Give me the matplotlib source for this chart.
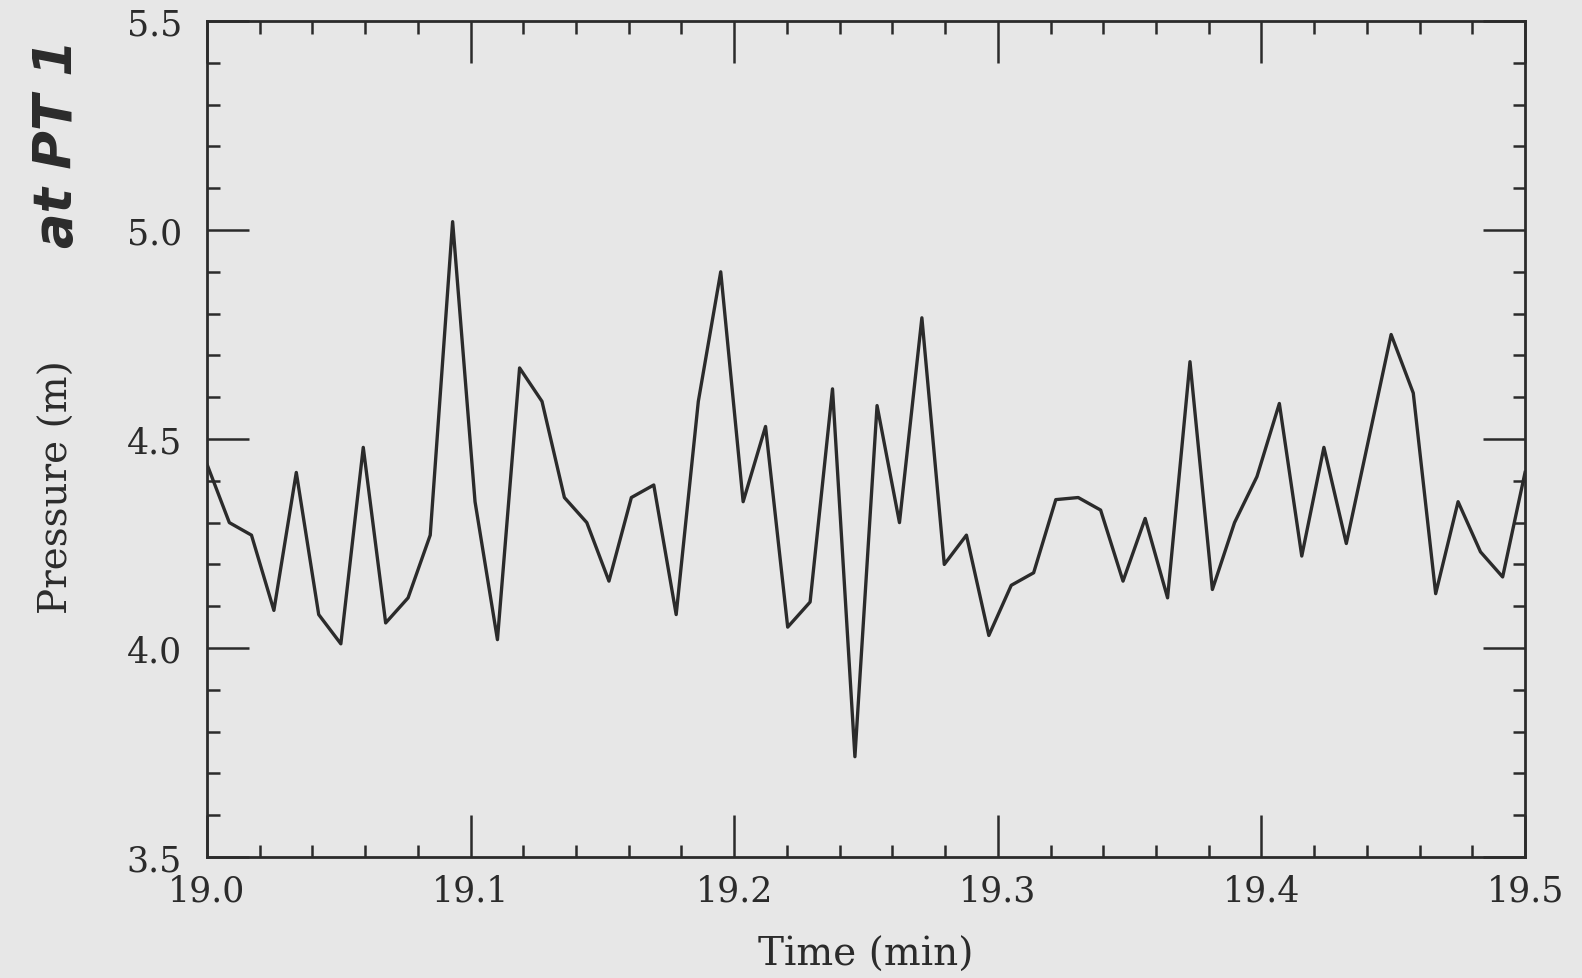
import matplotlib
matplotlib.use("Agg")
import matplotlib.pyplot as plt
from matplotlib.ticker import MultipleLocator

# time (min), one sample every ~0.5 s
time_min = [19.0000, 19.0085, 19.0169, 19.0254, 19.0339, 19.0424, 19.0508, 19.0593,
            19.0678, 19.0763, 19.0847, 19.0932, 19.1017, 19.1102, 19.1186, 19.1271,
            19.1356, 19.1441, 19.1525, 19.1610, 19.1695, 19.1780, 19.1864, 19.1949,
            19.2034, 19.2119, 19.2203, 19.2288, 19.2373, 19.2458, 19.2542, 19.2627,
            19.2712, 19.2797, 19.2881, 19.2966, 19.3051, 19.3136, 19.3220, 19.3305,
            19.3390, 19.3475, 19.3559, 19.3644, 19.3729, 19.3814, 19.3898, 19.3983,
            19.4068, 19.4153, 19.4237, 19.4322, 19.4407, 19.4492, 19.4576, 19.4661,
            19.4746, 19.4831, 19.4915, 19.5000]

# pressure (m) at PT 1
pressure = [4.44, 4.30, 4.27, 4.09, 4.42, 4.08, 4.01, 4.48,
            4.06, 4.12, 4.27, 5.02, 4.35, 4.02, 4.67, 4.59,
            4.36, 4.30, 4.16, 4.36, 4.39, 4.08, 4.59, 4.90,
            4.35, 4.53, 4.05, 4.11, 4.62, 3.74, 4.58, 4.30,
            4.79, 4.20, 4.27, 4.03, 4.15, 4.18, 4.355, 4.36,
            4.33, 4.16, 4.31, 4.12, 4.685, 4.14, 4.30, 4.41,
            4.585, 4.22, 4.48, 4.25, 4.50, 4.75, 4.61, 4.13,
            4.35, 4.23, 4.17, 4.42]

BG = "#e7e7e7"
INK = "#2b2b2b"
SERIF = ["DejaVu Serif"]

fig = plt.figure(figsize=(15.82, 9.79), dpi=100, facecolor=BG)
ax = fig.add_axes([0.1308, 0.1236, 0.8332, 0.8539])
ax.set_facecolor(BG)

ax.plot(time_min, pressure, color=INK, linewidth=2.4)

ax.set_xlim(19.0, 19.5)
ax.set_ylim(3.5, 5.5)
ax.xaxis.set_major_locator(MultipleLocator(0.1))
ax.xaxis.set_minor_locator(MultipleLocator(0.02))
ax.yaxis.set_major_locator(MultipleLocator(0.5))
ax.yaxis.set_minor_locator(MultipleLocator(0.1))
ax.xaxis.set_major_formatter(plt.FormatStrFormatter("%.1f"))
ax.yaxis.set_major_formatter(plt.FormatStrFormatter("%.1f"))

for s in ax.spines.values():
    s.set_color(INK)
    s.set_linewidth(2.0)

ax.tick_params(which="both", direction="in", top=True, right=True,
               color=INK, width=1.8, labelcolor=INK)
ax.tick_params(which="major", length=30)
ax.tick_params(which="minor", length=9)
ax.tick_params(axis="x", which="major", pad=12)
ax.tick_params(axis="y", which="major", pad=18)

for lab in ax.get_xticklabels() + ax.get_yticklabels():
    lab.set_fontfamily(SERIF)
    lab.set_fontsize(25)

ax.set_xlabel("Time (min)", fontsize=28, family=SERIF, color=INK, labelpad=20)

fig.text(0.036, 0.503, "Pressure (m)", rotation=90, fontsize=28, family=SERIF,
         color=INK, ha="center", va="center")
fig.text(0.036, 0.853, "at PT 1", rotation=90, fontsize=38, family=["DejaVu Sans"],
         fontweight="bold", style="italic", color=INK, ha="center", va="center")

fig.savefig("out.png", dpi=100, facecolor=BG)
